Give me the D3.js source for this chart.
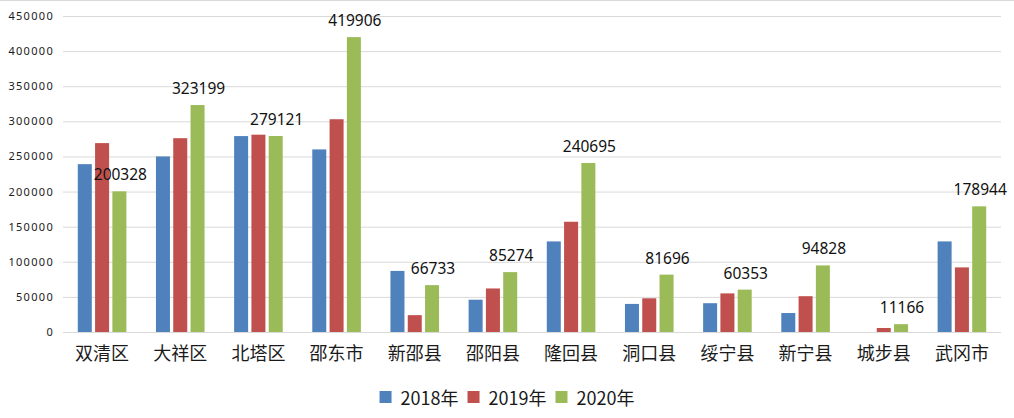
<!DOCTYPE html>
<html>
<head>
<meta charset="utf-8">
<script src="https://cdn.jsdelivr.net/npm/d3@7"></script>
<style>
  html, body { margin: 0; padding: 0; background: #fff; }
  svg { display: block; }
</style>
</head>
<body>
<svg id="chart" width="1014" height="418"></svg>
<script>
const categories = ["双清区","大祥区","北塔区","邵东市","新邵县","邵阳县","隆回县","洞口县","绥宁县","新宁县","城步县","武冈市"];
const seriesNames = ["2018年","2019年","2020年"];
const values2018 = [239000, 250000, 279000, 260000, 87000, 46000, 129000, 40000, 41000, 27000, 0, 129000];
const values2019 = [269000, 276000, 281000, 303000, 24000, 62000, 157000, 48000, 55000, 51000, 5700, 92000];
const values2020 = [200328, 323199, 279121, 419906, 66733, 85274, 240695, 81696, 60353, 94828, 11166, 178944];
const yTicks = [0, 50000, 100000, 150000, 200000, 250000, 300000, 350000, 400000, 450000];
const colors = ["#4F81BD", "#C0504D", "#9BBB59"];

const seriesValues = [values2018, values2019, values2020];
const svg = d3.select("#chart");

const margin = {left: 63, right: 1001, top: 16, bottom: 332};

// top border line
svg.append("line").attr("x1", 0).attr("x2", 1014).attr("y1", 0.5).attr("y2", 0.5)
  .attr("stroke", "#D9D9D9").attr("stroke-width", 1);

const y = d3.scaleLinear().domain([0, 450000]).range([margin.bottom, margin.top]);
const x0 = d3.scaleBand().domain(categories).range([margin.left, margin.right]).padding(0);
const x1 = d3.scaleBand().domain(seriesNames).range([-24.3, 24.3]).paddingInner(0.19).paddingOuter(0);

// gridlines
const yAxis = d3.axisLeft(y).tickValues(yTicks).tickSize(-(margin.right - margin.left)).tickFormat(d3.format("d")).tickPadding(10);
const gy = svg.append("g").attr("transform", `translate(${margin.left},0)`).call(yAxis);
gy.select(".domain").remove();
gy.selectAll(".tick line").attr("stroke", "#D9D9D9").attr("stroke-width", 1);
gy.selectAll(".tick text")
  .attr("x", -9)
  .attr("font-family", "'Noto Sans', sans-serif")
  .attr("font-size", 11)
  .attr("letter-spacing", "1.3px")
  .attr("fill", "#1a1a1a");

// bars
const groups = svg.append("g").selectAll("g").data(categories).join("g")
  .attr("transform", d => `translate(${x0(d) + x0.bandwidth() / 2},0)`);

groups.selectAll("rect").data((c, i) => seriesNames.map((s, k) => ({s, k, v: seriesValues[k][i]})))
  .join("rect")
  .attr("x", d => x1(d.s))
  .attr("width", x1.bandwidth())
  .attr("y", d => y(d.v))
  .attr("height", d => y(0) - y(d.v))
  .attr("fill", d => colors[d.k]);

// data labels for 2020
svg.append("g").selectAll("text").data(categories).join("text")
  .attr("x", (c) => x0(c) + x0.bandwidth() / 2 + x1("2020年") + x1.bandwidth() / 2 + 1)
  .attr("y", (c, i) => y(values2020[i]) - 11)
  .attr("text-anchor", "middle")
  .attr("font-family", "'Noto Sans', sans-serif")
  .attr("font-size", 15.5)
  .attr("fill", "#111")
  .text((c, i) => values2020[i]);

// x axis labels
const xAxis = d3.axisBottom(x0).tickSize(0).tickPadding(0);
const gx = svg.append("g").attr("transform", `translate(0,${margin.bottom})`).call(xAxis);
gx.select(".domain").remove();
gx.selectAll(".tick text")
  .attr("y", 28)
  .attr("dy", 0)
  .attr("font-family", "'Noto Sans CJK SC', sans-serif")
  .attr("font-size", 18)
  .attr("fill", "#1a1a1a");

// legend
const legend = svg.append("g");
const items = legend.selectAll("g").data(seriesNames).join("g");
items.append("rect").attr("width", 12).attr("height", 12).attr("y", 391).attr("fill", (d, i) => colors[i]);
items.append("text").attr("y", 405)
  .attr("font-family", "'Noto Sans CJK SC', sans-serif")
  .attr("font-size", 18)
  .attr("fill", "#1a1a1a")
  .text(d => d);
let xpos = 0;
const layout = [];
items.each(function () {
  const w = d3.select(this).select("text").node().getComputedTextLength();
  layout.push({x: xpos, w});
  xpos += 12 + 9 + w + 9;
});
const totalW = xpos - 9;
const startX = 507 - totalW / 2;
items.each(function (d, i) {
  const g = d3.select(this);
  g.select("rect").attr("x", startX + layout[i].x);
  g.select("text").attr("x", startX + layout[i].x + 21);
});
</script>
</body>
</html>
